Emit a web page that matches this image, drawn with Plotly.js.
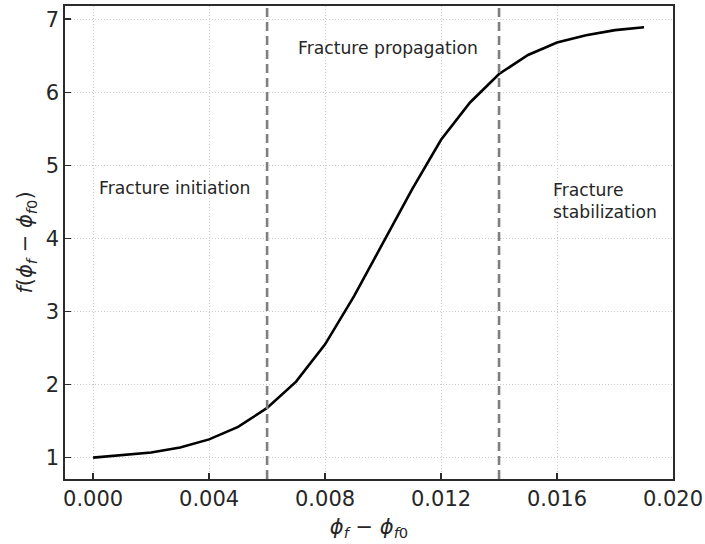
<!DOCTYPE html>
<html>
<head>
<meta charset="utf-8">
<script src="https://cdn.plot.ly/plotly-3.0.1.min.js"></script>
<style>
  html, body { margin: 0; padding: 0; background: #fff; }
  #chart { width: 705px; height: 544px; }
</style>
</head>
<body>
<div id="chart"></div>
<script>
// Fracture-porosity increment and the damage function
const phiIncrement = [0.000, 0.001, 0.002, 0.003, 0.004, 0.005, 0.006, 0.007, 0.008, 0.009,
                      0.010, 0.011, 0.012, 0.013, 0.014, 0.015, 0.016, 0.017, 0.018, 0.019];
const fValues = [1.00, 1.03, 1.07, 1.14, 1.25, 1.42, 1.68, 2.04, 2.55, 3.21,
                 3.95, 4.67, 5.35, 5.86, 6.25, 6.51, 6.68, 6.78, 6.85, 6.89];

// Stage boundaries
const stageBounds = [0.006, 0.014];

// Stage labels: text, x, y
const stageText = ['Fracture initiation', 'Fracture propagation', 'Fracture<br>stabilization'];
const stageX = [0.00012, 0.00700, 0.01580];
const stageY = [4.69, 6.61, 4.51];

const xTicks = [0.000, 0.004, 0.008, 0.012, 0.016, 0.020];
const xTickText = ['0.000', '0.004', '0.008', '0.012', '0.016', '0.020'];
const yTicks = [1, 2, 3, 4, 5, 6, 7];

const FONT = 'DejaVu Sans, sans-serif';
const AXIS_COLOR = '#2b2b2b';
const PHI = '\u03D5';

const traces = [{
  x: phiIncrement,
  y: fValues,
  type: 'scatter',
  mode: 'lines',
  line: { color: '#000000', width: 2.6 },
  hoverinfo: 'skip',
  showlegend: false
}];

const shapes = stageBounds.map(b => ({
  type: 'line', xref: 'x', yref: 'paper',
  x0: b, x1: b, y0: 0, y1: 1,
  line: { color: '#7f7f7f', width: 2.6, dash: '9px,5px' }
}));

const annotations = stageText.map((t, i) => ({
  x: stageX[i], y: stageY[i], xref: 'x', yref: 'y',
  text: t, showarrow: false, xanchor: 'left', yanchor: 'middle', align: 'left',
  font: { family: FONT, size: 17.2, color: '#262626' }
}));

const axisCommon = {
  showline: true, linecolor: AXIS_COLOR, linewidth: 1.6, mirror: true,
  ticks: 'inside', ticklen: 6, tickwidth: 1.4, tickcolor: AXIS_COLOR,
  showgrid: true, gridcolor: '#cccccc', gridwidth: 1, griddash: '1px,2px',
  zeroline: false,
  tickfont: { family: FONT, size: 21, color: '#262626' }
};

const xTitle = '<i>' + PHI + '</i><sub><i>f</i></sub> − <i>' + PHI + '</i><sub><i>f</i>0</sub>';
const yTitle = '<i>f</i>(' + xTitle + ')';

const layout = {
  width: 705, height: 544,
  margin: { l: 65, r: 32, t: 6, b: 65 },
  paper_bgcolor: '#ffffff', plot_bgcolor: '#ffffff',
  xaxis: Object.assign({}, axisCommon, {
    range: [-0.00097, 0.020],
    tickvals: xTicks, ticktext: xTickText,
    title: { text: xTitle, font: { family: FONT, size: 21, color: '#262626' }, standoff: 9 }
  }),
  yaxis: Object.assign({}, axisCommon, {
    range: [0.708, 7.18],
    tickvals: yTicks,
    title: { text: yTitle, font: { family: FONT, size: 21, color: '#262626' }, standoff: 7 }
  }),
  shapes: shapes,
  annotations: annotations
};

Plotly.newPlot('chart', traces, layout, { staticPlot: true, displayModeBar: false });
</script>
</body>
</html>
